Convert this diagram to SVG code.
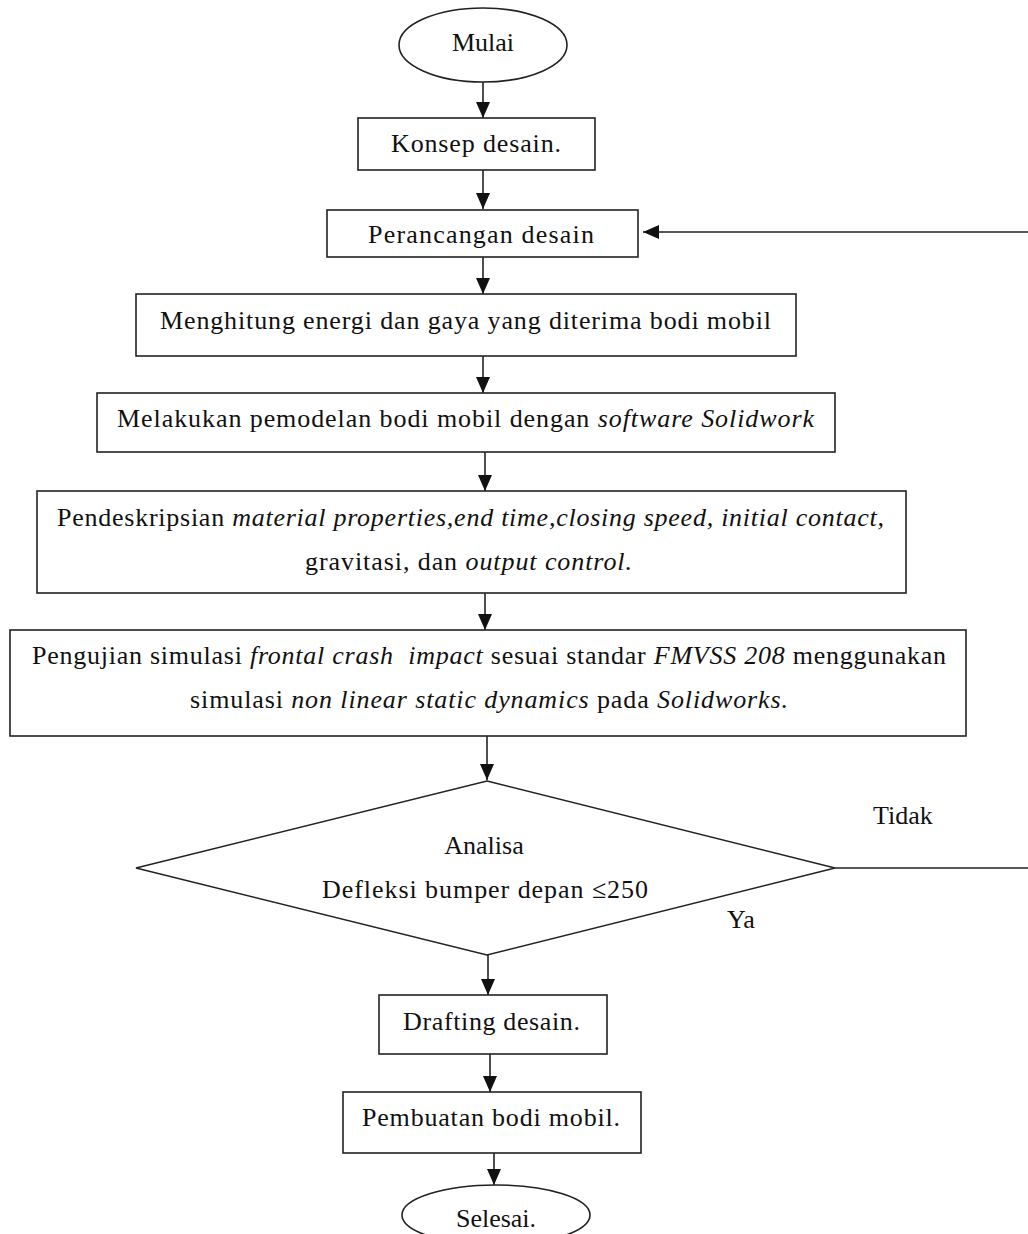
<svg xmlns="http://www.w3.org/2000/svg" width="1028" height="1234" viewBox="0 0 1028 1234">
<style>
.s{fill:#fff;stroke:#222;stroke-width:1.6}
.t{font-family:"Liberation Serif","DejaVu Serif",serif;font-size:26px;fill:#111}
.i{font-style:italic}
.c{fill:none;stroke:#222;stroke-width:1.6}
</style>
<defs>
<marker id="b" viewBox="0 0 16 14" refX="16" refY="7" markerWidth="16" markerHeight="14" markerUnits="userSpaceOnUse" orient="auto">
<path d="M0,0 L16,7 L0,14 Z" fill="#111"/>
</marker>
</defs>
<g id="connectors">
<line class="c" x1="483" y1="82" x2="483" y2="118" marker-end="url(#b)"/>
<line class="c" x1="483" y1="170" x2="483" y2="209" marker-end="url(#b)"/>
<line class="c" x1="483" y1="257" x2="483" y2="294" marker-end="url(#b)"/>
<line class="c" x1="483" y1="356" x2="483" y2="393" marker-end="url(#b)"/>
<line class="c" x1="485" y1="452" x2="485" y2="491" marker-end="url(#b)"/>
<line class="c" x1="485" y1="593" x2="485" y2="630" marker-end="url(#b)"/>
<line class="c" x1="487" y1="736" x2="487" y2="780" marker-end="url(#b)"/>
<line class="c" x1="488" y1="955" x2="488" y2="995" marker-end="url(#b)"/>
<line class="c" x1="490" y1="1054" x2="490" y2="1092" marker-end="url(#b)"/>
<line class="c" x1="494" y1="1153" x2="494" y2="1185" marker-end="url(#b)"/>
<path class="c" d="M835,868 H1032 V232 H643" marker-end="url(#b)"/>
</g>
<g id="mulai"><ellipse class="s" cx="483" cy="45" rx="84" ry="37"/><text class="t" x="483" y="51" text-anchor="middle">Mulai</text></g>
<g id="konsep"><rect class="s" x="358" y="118" width="237" height="52"/><text class="t" x="391" y="152" textLength="170">Konsep desain.</text></g>
<g id="perancangan"><rect class="s" x="327" y="210" width="311" height="47"/><text class="t" x="368" y="243" textLength="226">Perancangan desain</text></g>
<g id="menghitung"><rect class="s" x="136" y="294" width="660" height="62"/><text class="t" x="160" y="329" textLength="611">Menghitung energi dan gaya yang diterima bodi mobil</text></g>
<g id="pemodelan"><rect class="s" x="97" y="393" width="738" height="59"/><text class="t" x="117" y="427" textLength="697">Melakukan pemodelan bodi mobil dengan <tspan class="i">software Solidwork</tspan></text></g>
<g id="pendeskripsian"><rect class="s" x="37" y="491" width="869" height="102"/>
<text class="t" x="57" y="526" textLength="827">Pendeskripsian <tspan class="i">material properties,end time,closing speed, initial contact,</tspan></text>
<text class="t" x="305" y="570" textLength="327">gravitasi, dan <tspan class="i">output control.</tspan></text></g>
<g id="pengujian"><rect class="s" x="10" y="630" width="956" height="106"/>
<text class="t" x="32" y="664" textLength="914" xml:space="preserve">Pengujian simulasi <tspan class="i">frontal crash  impact</tspan> sesuai standar <tspan class="i">FMVSS 208</tspan> menggunakan</text>
<text class="t" x="190" y="708" textLength="598">simulasi <tspan class="i">non linear static dynamics</tspan> pada <tspan class="i">Solidworks.</tspan></text></g>
<g id="analisa"><polygon class="s" points="487,781 835,868 487,955 136,868"/>
<text class="t" x="484" y="854" text-anchor="middle">Analisa</text>
<text class="t" x="322" y="898" textLength="326">Defleksi bumper depan ≤250</text></g>
<g id="label-tidak"><text class="t" x="873" y="824">Tidak</text></g>
<g id="label-ya"><text class="t" x="727" y="928">Ya</text></g>
<g id="drafting"><rect class="s" x="379" y="995" width="228" height="59"/><text class="t" x="403" y="1030" textLength="177">Drafting desain.</text></g>
<g id="pembuatan"><rect class="s" x="343" y="1092" width="298" height="61"/><text class="t" x="362" y="1126" textLength="258">Pembuatan bodi mobil.</text></g>
<g id="selesai"><ellipse class="s" cx="496" cy="1215" rx="94" ry="30"/><text class="t" x="496" y="1227" text-anchor="middle">Selesai.</text></g>
</svg>
